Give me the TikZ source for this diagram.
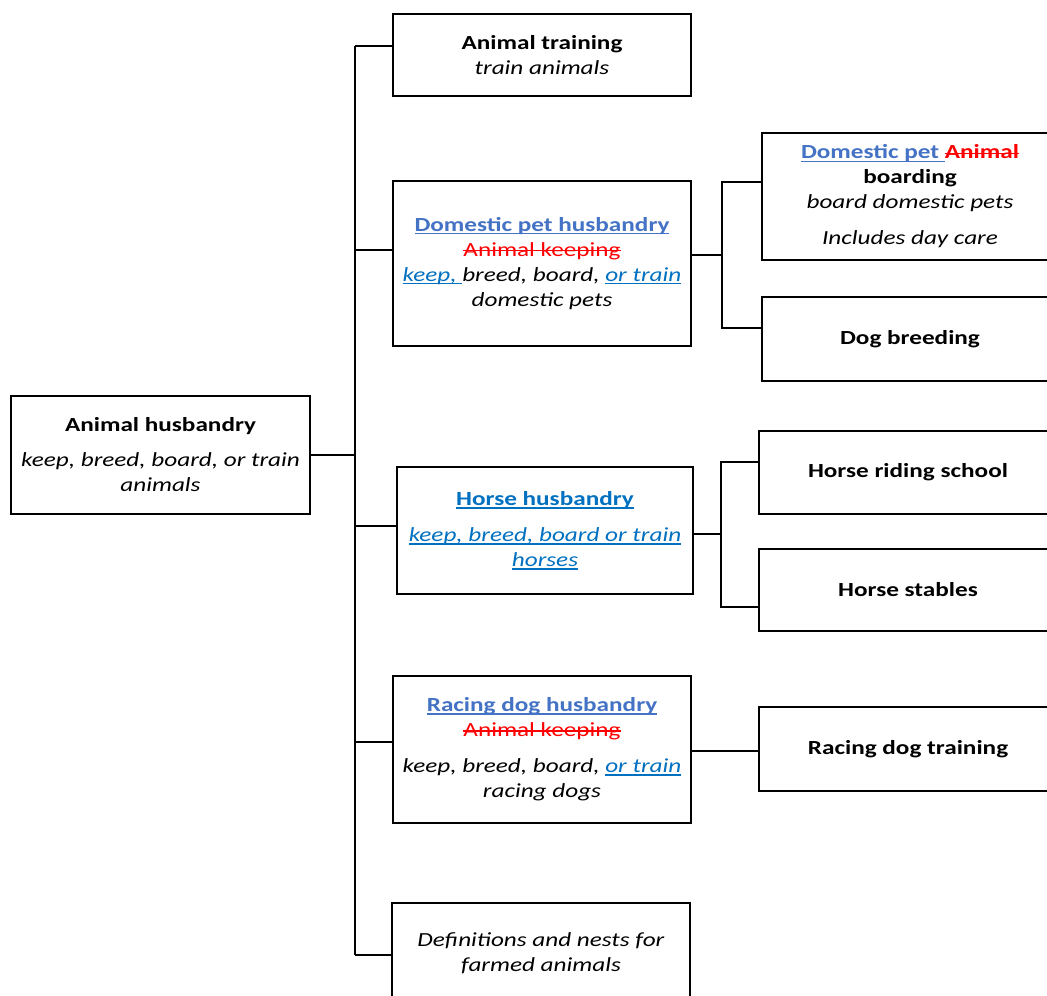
\documentclass[tikz,border=0pt]{standalone}
\usepackage{fontspec}
\setmainfont{Carlito}[FakeStretch=1.26]
\definecolor{hdblue}{HTML}{4472C4}
\definecolor{lkblue}{HTML}{0070C0}
\definecolor{strred}{HTML}{FF0000}
\newsavebox{\mylinebox}
\newcommand{\ulc}[2]{{\color{#1}\sbox{\mylinebox}{#2}\rlap{\rule[-3pt]{\wd\mylinebox}{1.4pt}}\usebox{\mylinebox}}}
\newcommand{\hdu}[1]{\ulc{hdblue}{#1}}
\newcommand{\lku}[1]{\ulc{lkblue}{#1}}
\newcommand{\strk}[1]{{\color{strred}\sbox{\mylinebox}{#1}\rlap{\rule[5pt]{\wd\mylinebox}{1.4pt}}\usebox{\mylinebox}}}
\begin{document}
\begin{tikzpicture}[x=1pt,y=-1pt,
  box/.style={draw=black,line width=1.5pt,fill=white,align=center,inner sep=0pt,
    font=\fontsize{20}{25}\selectfont},
  conn/.style={draw=black,line width=1.5pt}]
\useasboundingbox (0,0) rectangle (1047,996);
\clip (0,0) rectangle (1047,996);
% nodes
\node[box,minimum width=299pt,minimum height=118pt] (root) at (160.5,455)
  {\textbf{Animal husbandry}\\[10pt]\textit{keep, breed, board, or train}\\\textit{animals}};
\node[box,minimum width=298pt,minimum height=82pt] (train) at (542,55)
  {\textbf{Animal training}\\\textit{train animals}};
\node[box,minimum width=298pt,minimum height=165pt] (dom) at (542,263.5)
  {\textbf{\hdu{Domestic pet husbandry}}\\\strk{Animal keeping}\\
   \textit{\lku{keep,~}breed, board, \lku{or train}}\\\textit{domestic pets}};
\node[box,minimum width=296pt,minimum height=127pt] (horse) at (545,530.5)
  {\textbf{\lku{Horse husbandry}}\\[11pt]
   \textit{\lku{keep, breed, board or train}}\\\textit{\lku{horses}}};
\node[box,minimum width=298pt,minimum height=147pt] (race) at (542,749.5)
  {\textbf{\hdu{Racing dog husbandry}}\\\strk{Animal keeping}\\[11pt]
   \textit{keep, breed, board, \lku{or train}}\\\textit{racing dogs}};
\node[box,minimum width=298pt,minimum height=100pt] (defn) at (541,953)
  {\textit{Definitions and nests for}\\\textit{farmed animals}};
\node[box,minimum width=296pt,minimum height=127pt] (board) at (910,196.5)
  {\textbf{\hdu{Domestic pet~}\strk{Animal}}\\\textbf{boarding}\\
   \textit{board domestic pets}\\[11pt]\textit{Includes day care}};
\node[box,minimum width=296pt,minimum height=84pt] (dogb) at (910,339)
  {\textbf{Dog breeding}};
\node[box,minimum width=298pt,minimum height=83pt] (hride) at (908,472.5)
  {\textbf{Horse riding school}};
\node[box,minimum width=298pt,minimum height=82pt] (hstab) at (908,590)
  {\textbf{Horse stables}};
\node[box,minimum width=298pt,minimum height=84pt] (rdt) at (908,749)
  {\textbf{Racing dog training}};
% trunk
\coordinate (jTop) at (355,46);
\coordinate (jBot) at (355,955);
\draw[conn] (jTop) -- (jBot);
\draw[conn] (root.east) -- (root.east -| jTop);
\draw[conn] (jTop) -- (jTop -| train.west);
\draw[conn] (jTop |- 0,250) -- (dom.west |- 0,250);
\draw[conn] (jTop |- 0,526) -- (horse.west |- 0,526);
\draw[conn] (jTop |- 0,742) -- (race.west |- 0,742);
\draw[conn] (jBot) -- (jBot -| defn.west);
% domestic sub-branch
\coordinate (dT) at (722,182);
\coordinate (dB) at (722,328);
\draw[conn] (dom.east |- 0,255) -- (dT |- 0,255);
\draw[conn] (board.west |- dT) -- (dT) -- (dB) -- (dogb.west |- dB);
% horse sub-branch
\coordinate (hT) at (721,462);
\coordinate (hB) at (721,607);
\draw[conn] (horse.east |- 0,534) -- (hT |- 0,534);
\draw[conn] (hride.west |- hT) -- (hT) -- (hB) -- (hstab.west |- hB);
% racing sub-branch
\draw[conn] (race.east |- 0,751) -- (rdt.west |- 0,751);
\end{tikzpicture}
\end{document}
